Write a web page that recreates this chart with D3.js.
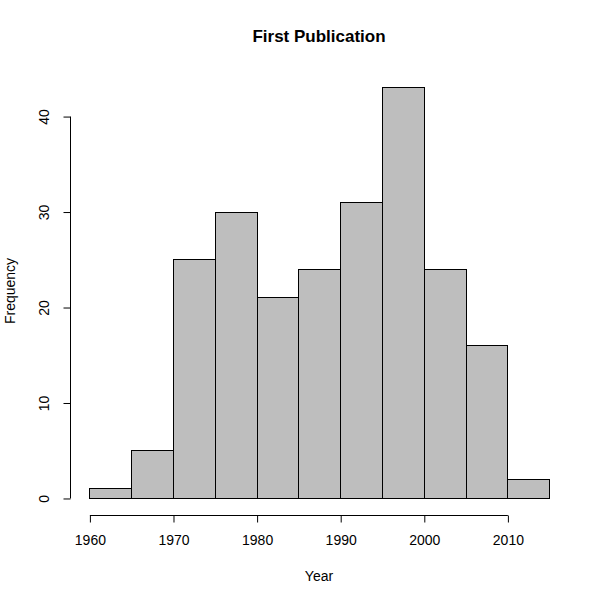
<!DOCTYPE html>
<html>
<head>
<meta charset="utf-8">
<script src="https://cdn.jsdelivr.net/npm/d3@7"></script>
<style>
  html, body { margin: 0; padding: 0; background: #fff; }
  text { font-family: "Liberation Sans", Arial, sans-serif; fill: #000; }
</style>
</head>
<body>
<svg id="chart" width="604" height="603"></svg>
<script>
// Data (histogram bins: [start, end) and counts)
const binStarts = [1960, 1965, 1970, 1975, 1980, 1985, 1990, 1995, 2000, 2005, 2010];
const binWidth = 5;
const counts = [1, 5, 25, 30, 21, 24, 31, 43, 24, 16, 2];
const xTicks = [1960, 1970, 1980, 1990, 2000, 2010];
const yTicks = [0, 10, 20, 30, 40];
const title = "First Publication";
const xLabel = "Year";
const yLabel = "Frequency";

const svg = d3.select("#chart");

// plot region approx x 71..567.6, y 71..514.4 (R's 4% extension)
const x = d3.scaleLinear().domain([1957.8, 2017.2]).range([71, 567.6]);
const y = d3.scaleLinear().domain([-1.72, 44.72]).range([514.4, 71]);

const bins = binStarts.map((s, i) => ({ x0: s, x1: s + binWidth, n: counts[i] }));

const snap = v => Math.round(v) + 0.5;

svg.append("g").selectAll("rect")
  .data(bins)
  .join("rect")
  .attr("x", d => snap(x(d.x0)))
  .attr("y", d => snap(y(d.n)))
  .attr("width", d => Math.round(x(d.x1)) - Math.round(x(d.x0)))
  .attr("height", d => Math.round(y(0)) - Math.round(y(d.n)))
  .attr("fill", "#bebebe")
  .attr("stroke", "#000")
  .attr("stroke-width", 1);

// X axis (R style: line spans first to last tick, offset below plot)
const xAxisY = 515;
const xAxis = d3.axisBottom(x).tickValues(xTicks).tickFormat(d3.format("d")).tickSize(7).tickPadding(13).tickSizeOuter(0);
const gx = svg.append("g").attr("transform", `translate(0.5,${xAxisY + 0.5})`).call(xAxis);
gx.select(".domain").remove();
gx.append("line")
  .attr("x1", x(xTicks[0])).attr("x2", x(xTicks[xTicks.length - 1]))
  .attr("y1", 0).attr("y2", 0).attr("stroke", "#000");
gx.selectAll(".tick line").attr("stroke", "#000");
gx.selectAll(".tick text").attr("font-size", 14).attr("font-family", "Liberation Sans, Arial, sans-serif").attr("fill", "#000");

// Y axis
const yAxisX = 70;
const yAxis = d3.axisLeft(y).tickValues(yTicks).tickSize(7).tickSizeOuter(0);
const gy = svg.append("g").attr("transform", `translate(${yAxisX + 0.5},0.5)`).call(yAxis);
gy.select(".domain").remove();
gy.append("line")
  .attr("x1", 0).attr("x2", 0)
  .attr("y1", y(yTicks[0])).attr("y2", y(yTicks[yTicks.length - 1]))
  .attr("stroke", "#000");
gy.selectAll(".tick line").attr("stroke", "#000");
gy.selectAll(".tick text")
  .attr("font-size", 14).attr("font-family", "Liberation Sans, Arial, sans-serif").attr("fill", "#000")
  .attr("x", null).attr("dy", null)
  .attr("text-anchor", "middle")
  .attr("transform", "translate(-21.5,0) rotate(-90)");

// Title
svg.append("text")
  .attr("x", 319).attr("y", 42)
  .attr("text-anchor", "middle")
  .attr("font-size", 17).attr("font-weight", "bold")
  .text(title);

// Axis labels
svg.append("text")
  .attr("x", 319).attr("y", 581)
  .attr("text-anchor", "middle")
  .attr("font-size", 14)
  .text(xLabel);

svg.append("text")
  .attr("transform", "translate(15,291) rotate(-90)")
  .attr("text-anchor", "middle")
  .attr("font-size", 14)
  .text(yLabel);
</script>
</body>
</html>
